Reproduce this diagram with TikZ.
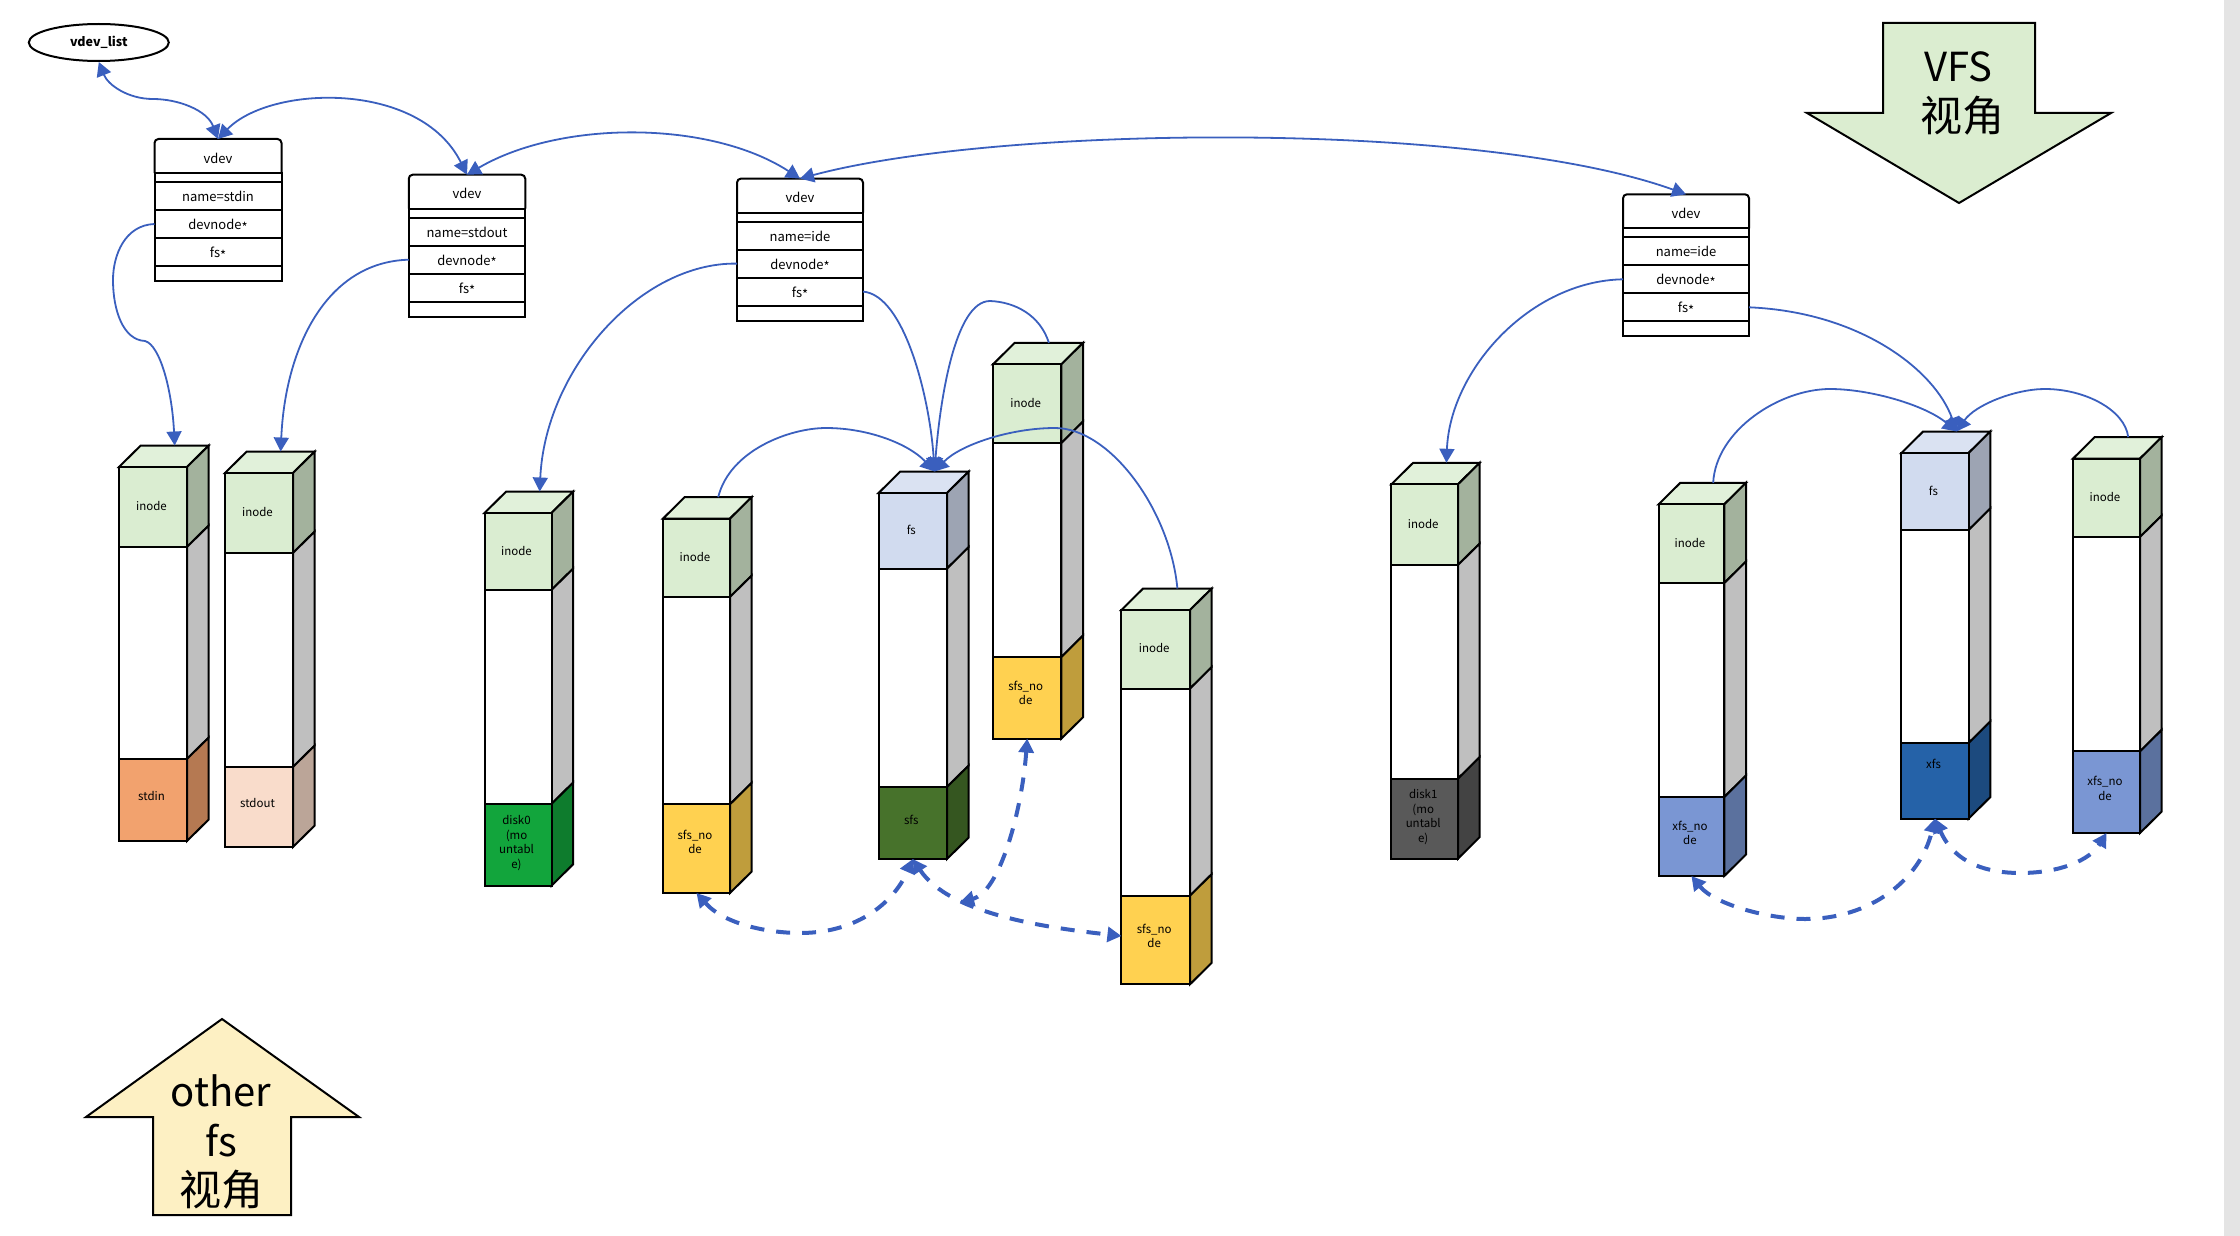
\documentclass[tikz,border=0pt]{standalone}
\usepackage{fontspec}
\setmainfont{Noto Sans CJK SC}
\usetikzlibrary{positioning}
\usetikzlibrary{arrows.meta}
\usetikzlibrary{shapes.geometric}

\definecolor{linkblue}{HTML}{3A5FBE}
\definecolor{inodecol}{HTML}{DAEDD1}
\definecolor{fscol}{HTML}{D1DBEF}
\definecolor{stdincol}{HTML}{F2A26E}
\definecolor{stdoutcol}{HTML}{F9DCCB}
\definecolor{diskgreen}{HTML}{12A53C}
\definecolor{sfsnodecol}{HTML}{FFD150}
\definecolor{sfscol}{HTML}{47722B}
\definecolor{diskgray}{HTML}{595959}
\definecolor{xfsnodecol}{HTML}{7A96D3}
\definecolor{xfscol}{HTML}{2562A8}
\definecolor{vfscol}{HTML}{DBEDD0}
\definecolor{othercol}{HTML}{FDF0C3}
\definecolor{barcol}{HTML}{E4E4E4}

\newcommand{\depx}{21.7}
\newcommand{\depy}{21.5}
\newcommand{\lowstar}{\raisebox{-2.5pt}{*}}

\tikzset{
  face/.style={draw=black,line width=2pt,line join=miter},
  stacktxt/.style={inner sep=0pt,align=center,font=\fontsize{11.5}{14.5}\selectfont},
  vrow/.style={minimum width=#1,inner sep=0pt,outer sep=0pt,font=\fontsize{13}{15}\selectfont,
    text height=14pt,text depth=3pt,anchor=north},
  vbox/.style={draw=black,line width=2pt},
  link/.style={draw=linkblue,line width=1.8pt,>={Triangle[length=14pt,width=15pt]}},
  dashlink/.style={link,line width=4pt,dash pattern=on 14pt off 12pt},
  bigarrow/.style={draw=black,line width=2pt,line join=miter},
  bigtxt/.style={inner sep=0pt,align=center,font=\fontsize{40}{49.5}\selectfont},
}

\begin{document}
\begin{tikzpicture}[x=1pt,y=-1pt]
    \useasboundingbox (0,0) rectangle (2240,1236);
    \fill[barcol] (2224,0) rectangle (2240,1236);

    % big arrows
    \draw[bigarrow,fill=vfscol] (1883,23) -- (2035,23) -- (2035,113) -- (2111,113)
      -- (1959,203) -- (1807,113) -- (1883,113) -- cycle;
    \node[bigtxt] (vfslabel) at (1958,93.5) {VFS\\\hspace*{8pt}{\fontsize{42}{49.5}\selectfont 视角}};
    \draw[bigarrow,fill=othercol] (222,1019) -- (359,1117) -- (291,1117) -- (291,1215)
      -- (153,1215) -- (153,1117) -- (86,1117) -- cycle;
    \node[bigtxt] (otherlabel) at (221,1142) {other\\fs\\{\fontsize{42}{49.5}\selectfont 视角}};

    \node[draw=black,line width=2pt,ellipse,minimum width=140pt,minimum height=37pt,inner sep=0pt,
      font=\bfseries\fontsize{12.5}{15}\selectfont] (vlist) at (98.8,42.5) {\raisebox{-2.5pt}{vdev\_list}};

    % vdev tables
    \foreach \nm/\xa/\ya/\rw/\lab in {
      v1/218/139/127/stdin,
      v2/467/174.7/116.5/stdout,
      v3/800/178.6/126/ide,
      v4/1686/194.3/126/ide}
    {
      \node[vrow=\rw pt,minimum height=34pt,text height=17pt] (\nm) at (\xa,\ya) {vdev};
      \draw[vbox,rounded corners=4pt] (\nm.south west) -- (\nm.north west) -- (\nm.north east) -- (\nm.south east);
      \node[vrow=\rw pt,vbox,minimum height=9pt,text height=0pt,text depth=0pt,below=0pt of \nm] (\nm-gap) {};
      \node[vrow=\rw pt,vbox,minimum height=28pt,below=0pt of \nm-gap] (\nm-name) {name=\lab};
      \node[vrow=\rw pt,vbox,minimum height=28pt,below=0pt of \nm-name] (\nm-dev) {devnode\lowstar};
      \node[vrow=\rw pt,vbox,minimum height=28pt,below=0pt of \nm-dev] (\nm-fs) {fs\lowstar};
      \node[vrow=\rw pt,vbox,minimum height=15pt,text height=0pt,text depth=0pt,below=0pt of \nm-fs] (\nm-end) {};
    }

    % stacks: x left, x right, four y levels, top text and colour, low text, colour and y
    \foreach \nm/\xa/\xb/\ya/\yb/\yc/\yd/\ttxt/\tcol/\btxt/\bcol/\ybt in {
      s1/119/187/467/547/759/841/inode/inodecol/stdin/stdincol/796,
      s2/225/293/473/553/767/847/inode/inodecol/stdout/stdoutcol/803,
      s3/484.5/551.5/513/590/804/885.7/inode/inodecol/{disk0\\(mo\\untabl\\e)}/diskgreen/843,
      s4/663/730/518.6/597/804.3/893/inode/inodecol/{sfs\_no\\de}/sfsnodecol/842,
      s5/878.6/947/493/568.6/787/859/fs/fscol/sfs/sfscol/820,
      s6/993/1061.4/364.3/443/657/738.6/inode/inodecol/{sfs\_no\\de}/sfsnodecol/693,
      s7/1121.4/1190/610/688.6/895.7/984.3/inode/inodecol/{sfs\_no\\de}/sfsnodecol/936,
      s8/1391.4/1458/484.3/565/778.6/858.6/inode/inodecol/{disk1\\(mo\\untabl\\e)}/diskgray/817,
      s9/1658.6/1724.3/504.3/583/797/876/inode/inodecol/{xfs\_no\\de}/xfsnodecol/833,
      s10/1901.4/1968.6/453/530/743/818.6/fs/fscol/xfs/xfscol/764,
      s11/2073/2140/458.6/537/751.4/833/inode/inodecol/{xfs\_no\\de}/xfsnodecol/788.6}
    {
      \draw[face,fill=\tcol!80!white] (\xa,\ya) -- ++(\depx,-\depy) -- ({\xb+\depx},{\ya-\depy}) -- (\xb,\ya) -- cycle;
      \draw[face,fill=\tcol!75!black] (\xb,\ya) -- ({\xb+\depx},{\ya-\depy}) -- ({\xb+\depx},{\yb-\depy}) -- (\xb,\yb) -- cycle;
      \draw[face,fill=white!75!black] (\xb,\yb) -- ({\xb+\depx},{\yb-\depy}) -- ({\xb+\depx},{\yc-\depy}) -- (\xb,\yc) -- cycle;
      \draw[face,fill=\bcol!75!black] (\xb,\yc) -- ({\xb+\depx},{\yc-\depy}) -- ({\xb+\depx},{\yd-\depy}) -- (\xb,\yd) -- cycle;
      \draw[face,fill=\tcol] (\xa,\ya) rectangle (\xb,\yb)
        node[midway,stacktxt,xshift=-1.5pt,yshift=1pt] (\nm) {\ttxt};
      \draw[face,fill=white] (\xa,\yb) rectangle (\xb,\yc);
      \draw[face,fill=\bcol] (\xa,\yc) rectangle (\xb,\yd);
      \node[stacktxt] (\nm-low) at ({(\xa+\xb)/2-1.5},\ybt) {\btxt};
      \coordinate (\nm-t) at ({(\xa+\xb)/2+\depx},{\ya-\depy});
      \coordinate (\nm-b) at ({(\xa+\xb)/2},\yd);
      \coordinate (\nm-l) at (\xa,{(\yc+\yd)/2-4});
    }
    \coordinate (sfsmeet) at (960,902);

    % list links
    \draw[link,<->] (vlist.south) .. controls (108,85) and (128,99) .. (153,99)
      .. controls (178,99) and (207,110) .. (v1.north);
    \draw[link,<->] (v1.north) .. controls (270,85) and (420,80) .. (v2.north);
    \draw[link,<->] (v2.north) .. controls (560,120) and (710,120) .. (v3.north);
    \draw[link,<->] (v3.north) .. controls (1000,125) and (1480,120) .. (v4.north);

    % devnode links
    \draw[link,->] (v1-dev.west) .. controls (125,225) and (113,255) .. (113,280)
      .. controls (113,310) and (123,340) .. (145,341)
      .. controls (160,345) and (172,390) .. (s1-t);
    \draw[link,->] (v2-dev.west) .. controls (325,262) and (285,350) .. (s2-t);
    \draw[link,->] (v3-dev.west) .. controls (640,262) and (545,370) .. (s3-t);
    \draw[link,->] (v4-dev.west) .. controls (1530,281) and (1450,370) .. (s8-t);

    % links to the fs boxes
    \draw[link,->] (v3-fs.east) .. controls (905,295) and (930,400) .. (s5-t);
    \draw[link,->] (s6-t) .. controls (1040,315) and (1015,302) .. (990,301)
      .. controls (955,301) and (940,400) .. (s5-t);
    \draw[link,->] (s4-t) .. controls (730,450) and (790,428) .. (826,428)
      .. controls (870,428) and (910,445) .. (s5-t);
    \draw[link,->] (s7-t) .. controls (1170,510) and (1110,428) .. (1055,428)
      .. controls (1010,428) and (960,445) .. (s5-t);
    \draw[link,->] (v4-fs.east) .. controls (1860,312) and (1935,370) .. (s10-t);
    \draw[link,->] (s9-t) .. controls (1716,430) and (1780,389) .. (1830,389)
      .. controls (1870,389) and (1925,405) .. (s10-t);
    \draw[link,->] (s11-t) .. controls (2125,410) and (2085,389) .. (2045,389)
      .. controls (2015,389) and (1975,405) .. (s10-t);

    % dashed links
    \draw[dashlink,<->] (s4-b) .. controls (725,925) and (770,933) .. (800,933)
      .. controls (860,933) and (895,900) .. (s5-b);
    \draw[dashlink,<->] (s5-b) .. controls (950,915) and (1050,928) .. (s7-l);
    \draw[dashlink,<->] (s6-b) .. controls (1022,810) and (1000,892) .. (sfsmeet);
    \draw[dashlink,<->] (s9-b) .. controls (1715,905) and (1770,919) .. (1805,919)
      .. controls (1870,919) and (1920,880) .. (s10-b);
    \draw[dashlink,<->] (s10-b) .. controls (1955,865) and (1990,873) .. (2020,873)
      .. controls (2060,873) and (2090,860) .. (s11-b);
\end{tikzpicture}
\end{document}
